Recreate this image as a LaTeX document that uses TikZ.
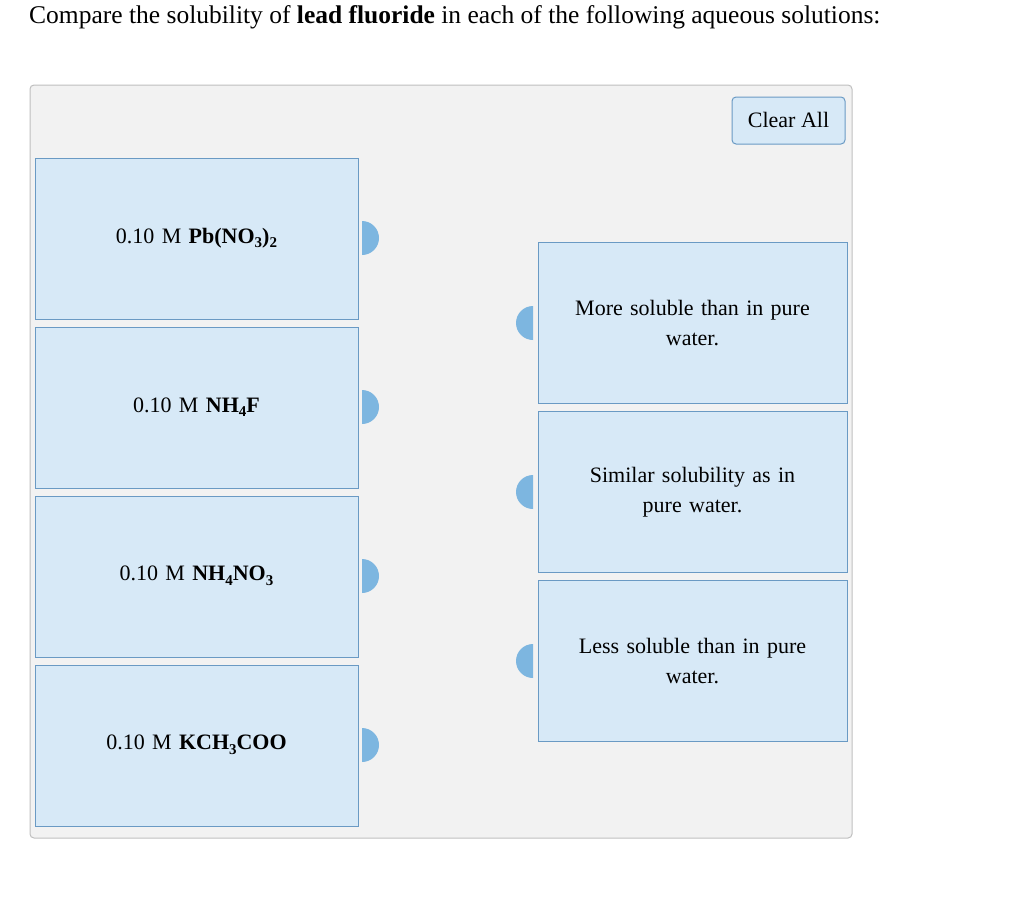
\documentclass[tikz,border=0pt]{standalone}
\usepackage{fontspec}
\setmainfont{Liberation Serif}
\newcommand{\sbs}[1]{\raisebox{-0.45ex}{\fontsize{15}{15}\selectfont #1}}
\begin{document}
\begin{tikzpicture}[x=1pt,y=-1pt,
  box/.style={draw=boxline,fill=boxfill,line width=1pt},
  lbl/.style={font=\fontsize{22}{30}\selectfont,align=center,text width=290pt}]
\definecolor{boxfill}{HTML}{D7E9F7}
\definecolor{boxline}{HTML}{6A9AC4}
\definecolor{knobc}{HTML}{7DB6E0}
\definecolor{panel}{HTML}{F2F2F2}
\useasboundingbox (0,0) rectangle (1024,897);
\node[anchor=west,font=\fontsize{25.5}{30}\selectfont,inner sep=0pt] (title) at (29,17) {Compare the solubility of \textbf{lead fluoride} in each of the following aqueous solutions:};
\draw[fill=panel,draw=black!25,rounded corners=4pt,line width=1pt] (30,85) rectangle (852,838);
\draw[fill=boxfill,draw=boxline,rounded corners=4pt,line width=1pt] (732,97) rectangle (845,144);
\node[font=\fontsize{22}{26}\selectfont] (clear) at (788.5,120) {Clear All};
\foreach \y/\t [count=\i] in {158/{0.10 M \textbf{Pb(NO\sbs{3})\sbs{2}}},327/{0.10 M \textbf{NH\sbs{4}F}},496/{0.10 M \textbf{NH\sbs{4}NO\sbs{3}}},665/{0.10 M \textbf{KCH\sbs{3}COO}}}{
  \draw[box] (35,\y) rectangle (358,\y+161);
  \node[lbl] (l\i) at (196.5,\y+80) {\t};
  \begin{scope}
    \clip (362,\y+55) rectangle (390,\y+105);
    \fill[knobc] (362,\y+80) circle (17);
  \end{scope}
}
\foreach \y/\t [count=\i] in {242/{More soluble than in pure\\water.},411/{Similar solubility as in\\pure water.},580/{Less soluble than in pure\\water.}}{
  \draw[box] (538,\y) rectangle (847,\y+161);
  \node[lbl] (r\i) at (692.5,\y+81) {\t};
  \begin{scope}
    \clip (533,\y+56) rectangle (505,\y+106);
    \fill[knobc] (533,\y+81) circle (17);
  \end{scope}
}
\end{tikzpicture}
\end{document}
